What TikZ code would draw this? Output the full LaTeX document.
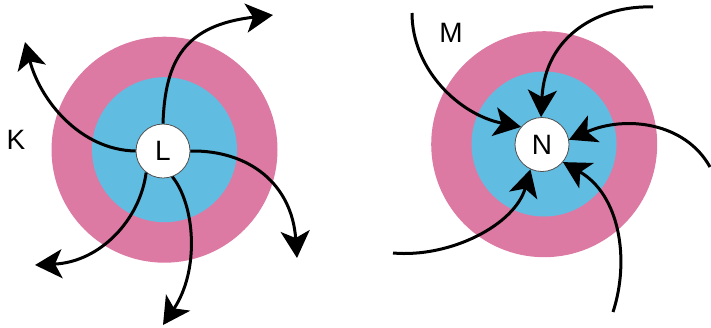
\documentclass[tikz,border=0pt]{standalone}
\usepackage{fontspec}
\setmainfont{Liberation Sans}
\usetikzlibrary{arrows.meta}
\definecolor{ringpink}{RGB}{220,122,164}
\definecolor{ringblue}{RGB}{97,188,225}
\definecolor{rimgray}{RGB}{80,80,80}
\tikzset{
  outer/.style={circle,fill=ringpink,minimum size=226pt,inner sep=0pt},
  inner/.style={circle,fill=ringblue,minimum size=145pt,inner sep=0pt},
  core/.style={circle,fill=white,draw=rimgray,line width=0.8pt,minimum size=54pt,inner sep=0pt,font=\fontsize{28}{28}\selectfont},
  lbl/.style={font=\fontsize{28}{28}\selectfont,inner sep=0pt},
  flow/.style={line width=3pt,-{Stealth[length=27pt,width=29pt,inset=7pt]}}
}
\begin{document}
\begin{tikzpicture}[x=1pt,y=-1pt]
\useasboundingbox (0,0) rectangle (711,327);
% left system
\node[outer] (Lout) at (164.5,149.7) {};
\node[inner] (Lin) at (164.5,149.7) {};
\node[core] (L) at (163,151) {L};
\coordinate (l1) at (273,15);
\coordinate (l2) at (25,42);
\coordinate (l3) at (297,258);
\coordinate (l4) at (35,265);
\coordinate (l5) at (163,325);
\draw[flow] (L.90) .. controls (165,60) and (185,25) .. (l1);
\draw[flow] (L.180) .. controls (80,150) and (40,100) .. (l2);
\draw[flow] (L.0) .. controls (250,150) and (292,185) .. (l3);
\draw[flow] (L.232) .. controls (140,220) and (100,262) .. (l4);
\draw[flow] (L.290) .. controls (195,205) and (200,270) .. (l5);
\node[lbl] (K) at (16,140) {K};
% right system
\node[outer] (Nout) at (544.2,144.2) {};
\node[inner] (Nin) at (544,144) {};
\node[core] (N) at (542,144.5) {N};
\coordinate (r1) at (412,13);
\coordinate (r2) at (653,7);
\coordinate (r3) at (710,167);
\coordinate (r4) at (393,253);
\coordinate (r5) at (613,312);
\draw[flow] (r1) .. controls (412,70) and (460,115) .. (N.140);
\draw[flow] (r2) .. controls (600,5) and (545,35) .. (N.92);
\draw[flow] (r3) .. controls (685,122) and (625,115) .. (N.10);
\draw[flow] (r4) .. controls (450,258) and (515,225) .. (N.245);
\draw[flow] (r5) .. controls (630,260) and (620,195) .. (N.320);
\node[lbl] (M) at (451,33) {M};
\end{tikzpicture}
\end{document}
